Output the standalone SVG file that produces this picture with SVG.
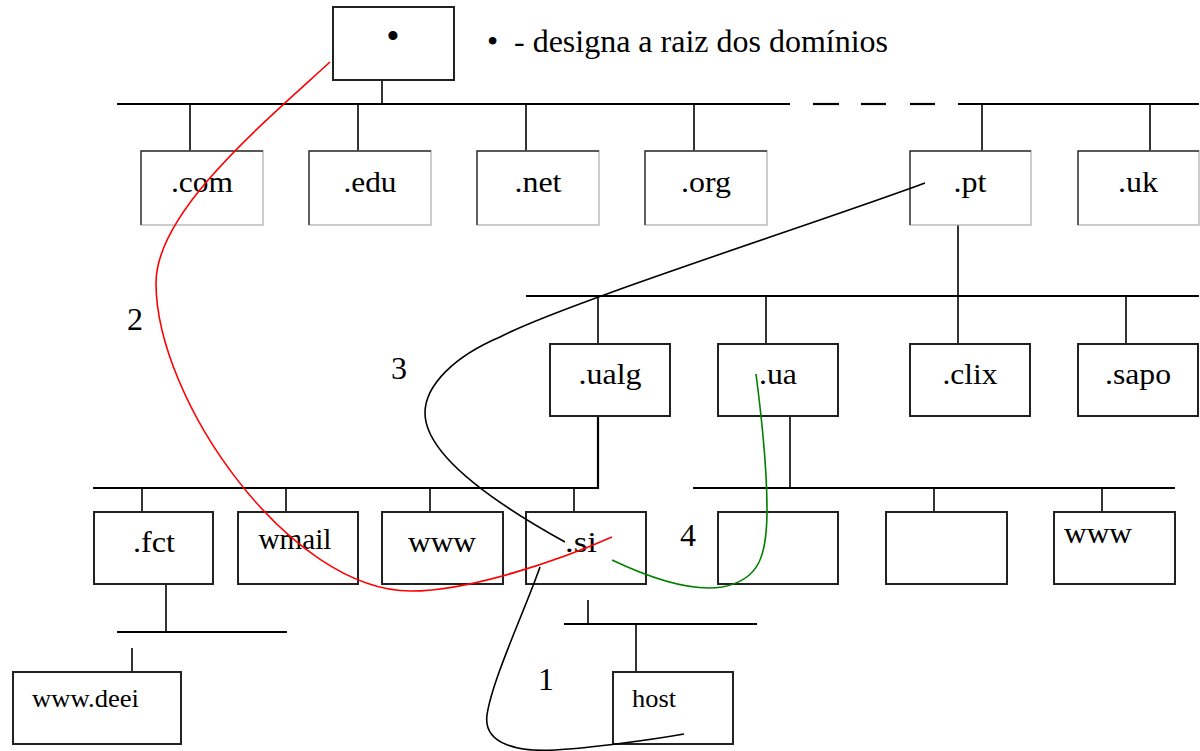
<svg xmlns="http://www.w3.org/2000/svg" width="1200" height="751" viewBox="0 0 1200 751">
<style>
.bus{stroke:#000;stroke-width:2.2;fill:none}
.stem{stroke:#000;stroke-width:1.6;fill:none}
.lt{fill:#fff;stroke:#aaa;stroke-width:1.2}
.ltd{fill:none;stroke:#333;stroke-width:1.4}
.bx{fill:#fff;stroke:#222;stroke-width:2}
.lbl{font-family:"Liberation Serif","Times New Roman",serif;font-size:30px;fill:#000;text-anchor:middle}
.sm{font-family:"Liberation Serif","Times New Roman",serif;font-size:25px;fill:#000}
.num{font-family:"Liberation Serif","Times New Roman",serif;font-size:32px;fill:#000}
.big{font-family:"Liberation Serif","Times New Roman",serif;font-size:32px;fill:#000}
.red{stroke:#f00;stroke-width:1.6;fill:none}
.grn{stroke:#008000;stroke-width:1.6;fill:none}
.blk{stroke:#000;stroke-width:1.6;fill:none}
</style>
<rect width="1200" height="751" fill="#fff"/>
<g id="buses">
<line class="stem" x1="382" y1="80" x2="382" y2="104"/>
<line class="bus" x1="117" y1="104" x2="790" y2="104"/>
<line class="bus" x1="813" y1="104" x2="839" y2="104"/>
<line class="bus" x1="861" y1="104" x2="886" y2="104"/>
<line class="bus" x1="910" y1="104" x2="935" y2="104"/>
<line class="bus" x1="958" y1="104" x2="1199" y2="104"/>
<line class="stem" x1="190" y1="104" x2="190" y2="151"/>
<line class="stem" x1="358" y1="104" x2="358" y2="151"/>
<line class="stem" x1="526" y1="104" x2="526" y2="151"/>
<line class="stem" x1="694" y1="104" x2="694" y2="151"/>
<line class="stem" x1="982" y1="104" x2="982" y2="151"/>
<line class="stem" x1="1150" y1="104" x2="1150" y2="151"/>
<line class="stem" x1="958" y1="225" x2="958" y2="344"/>
<line class="bus" x1="526" y1="296" x2="1199" y2="296"/>
<line class="stem" x1="598" y1="296" x2="598" y2="344"/>
<line class="stem" x1="766" y1="296" x2="766" y2="344"/>
<line class="stem" x1="1126" y1="296" x2="1126" y2="344"/>
<polyline class="bus" points="93,488 598,488 598,416"/>
<line class="stem" x1="142" y1="488" x2="142" y2="512"/>
<line class="stem" x1="286" y1="488" x2="286" y2="512"/>
<line class="stem" x1="430" y1="488" x2="430" y2="512"/>
<line class="stem" x1="574" y1="488" x2="574" y2="512"/>
<line class="stem" x1="790" y1="416" x2="790" y2="488"/>
<line class="bus" x1="693" y1="488" x2="1175" y2="488"/>
<line class="stem" x1="934" y1="488" x2="934" y2="512"/>
<line class="stem" x1="1102" y1="488" x2="1102" y2="512"/>
<line class="stem" x1="166" y1="584" x2="166" y2="632"/>
<line class="bus" x1="117" y1="632" x2="287" y2="632"/>
<line class="stem" x1="132" y1="648" x2="132" y2="672"/>
<line class="stem" x1="588" y1="600" x2="588" y2="624"/>
<line class="bus" x1="564" y1="624" x2="757" y2="624"/>
<line class="stem" x1="636" y1="624" x2="636" y2="672"/>
</g>
<g id="root">
<rect class="bx" x="333" y="7" width="121" height="73"/>
<text class="big" x="393" y="49" text-anchor="middle" style="font-size:38px">•</text>
</g>
<g id="legend">
<text class="big" y="52"><tspan x="487">•</tspan><tspan x="514" textLength="374" lengthAdjust="spacingAndGlyphs">- designa a raiz dos domínios</tspan></text>
</g>
<g id="com"><rect class="lt" x="141" y="151" width="122" height="74"/><path class="ltd" d="M141,225V151H263"/><text class="lbl" x="202" y="192" textLength="62" lengthAdjust="spacingAndGlyphs">.com</text></g>
<g id="edu"><rect class="lt" x="309" y="151" width="122" height="74"/><path class="ltd" d="M309,225V151H431"/><text class="lbl" x="370" y="192" textLength="53" lengthAdjust="spacingAndGlyphs">.edu</text></g>
<g id="net"><rect class="lt" x="477" y="151" width="122" height="74"/><path class="ltd" d="M477,225V151H599"/><text class="lbl" x="538" y="192" textLength="47" lengthAdjust="spacingAndGlyphs">.net</text></g>
<g id="org"><rect class="lt" x="645" y="151" width="122" height="74"/><path class="ltd" d="M645,225V151H767"/><text class="lbl" x="706" y="192" textLength="50" lengthAdjust="spacingAndGlyphs">.org</text></g>
<g id="pt"><rect class="lt" x="910" y="151" width="121" height="74"/><path class="ltd" d="M910,225V151H1031"/><text class="lbl" x="970" y="192" textLength="33" lengthAdjust="spacingAndGlyphs">.pt</text></g>
<g id="uk"><rect class="lt" x="1078" y="151" width="121" height="74"/><path class="ltd" d="M1078,225V151H1199"/><text class="lbl" x="1138" y="192" textLength="40" lengthAdjust="spacingAndGlyphs">.uk</text></g>
<g id="ualg"><rect class="bx" x="550" y="344" width="120" height="72"/><text class="lbl" x="610" y="384" textLength="63" lengthAdjust="spacingAndGlyphs">.ualg</text></g>
<g id="ua"><rect class="bx" x="718" y="344" width="120" height="72"/><text class="lbl" x="778" y="384" textLength="38" lengthAdjust="spacingAndGlyphs">.ua</text></g>
<g id="clix"><rect class="bx" x="910" y="344" width="120" height="72"/><text class="lbl" x="970" y="384" textLength="55" lengthAdjust="spacingAndGlyphs">.clix</text></g>
<g id="sapo"><rect class="bx" x="1078" y="344" width="120" height="72"/><text class="lbl" x="1138" y="384" textLength="66" lengthAdjust="spacingAndGlyphs">.sapo</text></g>
<g id="fct"><rect class="bx" x="94" y="512" width="119" height="72"/><text class="lbl" x="154" y="552" textLength="42" lengthAdjust="spacingAndGlyphs">.fct</text></g>
<g id="wmail"><rect class="bx" x="238" y="512" width="120" height="72"/><text class="lbl" x="295" y="549" textLength="73" lengthAdjust="spacingAndGlyphs">wmail</text></g>
<g id="www1"><rect class="bx" x="382" y="512" width="121" height="72"/><text class="lbl" x="442" y="552" textLength="68" lengthAdjust="spacingAndGlyphs">www</text></g>
<g id="si"><rect class="bx" x="526" y="512" width="120" height="72"/><text class="lbl" x="581" y="552" textLength="32" lengthAdjust="spacingAndGlyphs">.si</text></g>
<g id="blank1"><rect class="bx" x="718" y="512" width="120" height="72"/></g>
<g id="blank2"><rect class="bx" x="886" y="512" width="121" height="72"/></g>
<g id="www2"><rect class="bx" x="1054" y="512" width="121" height="72"/><text class="lbl" x="1098" y="543" textLength="68" lengthAdjust="spacingAndGlyphs">www</text></g>
<g id="wwwdeei"><rect class="bx" x="13" y="672" width="168" height="72"/><text class="sm" x="32" y="707" textLength="107" lengthAdjust="spacingAndGlyphs">www.deei</text></g>
<g id="host"><rect class="bx" x="613" y="672" width="120" height="72"/><text class="sm" x="632" y="707" textLength="44" lengthAdjust="spacingAndGlyphs">host</text></g>
<g id="connectors">
<path class="red" d="M330,62 C260,126 156,213 156,283 C156,400 290,591 411,591 C470,591 560,560 612,537"/>
<path class="blk" d="M925,183 C820,222 560,305 500,337 C455,356 425,385 425,413 C425,450 480,495 565,542"/>
<path class="blk" d="M540,567 C525,610 492,680 487,715 C483,745 520,752 555,750 C590,748 650,740 684,734"/>
<path class="grn" d="M612,560 C650,578 690,592 722,587 C760,580 767,555 767,510 C767,470 762,420 756,374"/>
</g>
<g id="labels">
<text class="num" x="127" y="330">2</text>
<text class="num" x="391" y="379">3</text>
<text class="num" x="680" y="546">4</text>
<text class="num" x="538" y="690">1</text>
</g>
</svg>
